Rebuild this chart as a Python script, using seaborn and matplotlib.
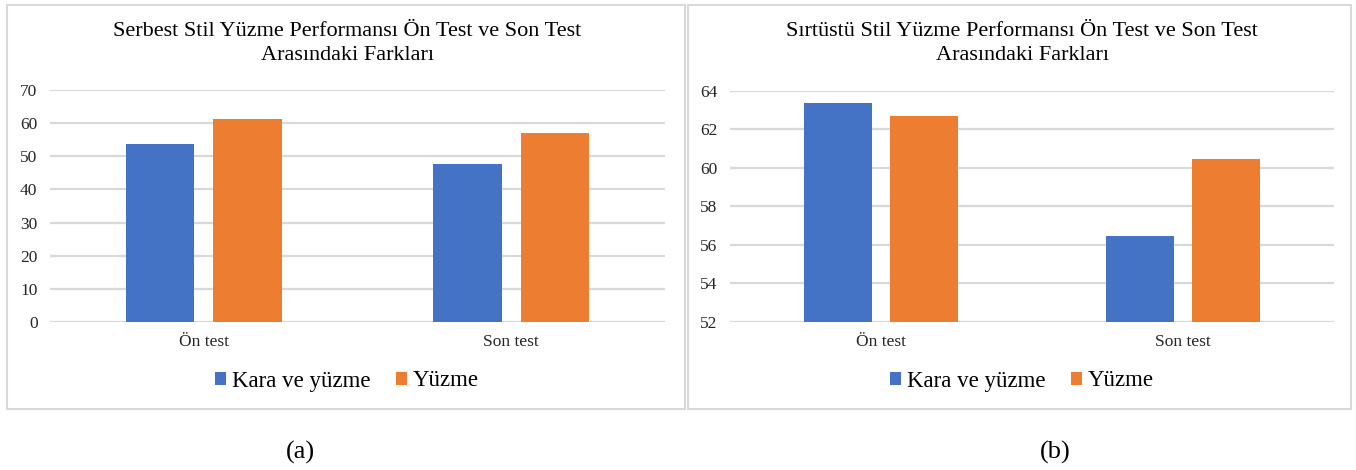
import matplotlib
matplotlib.use("Agg")
import matplotlib.pyplot as plt
import seaborn as sns
import pandas as pd
from matplotlib.patches import Rectangle, Patch

# Data
tests = ["Ön test", "Son test"]
groups = ["Kara ve yüzme", "Yüzme"]
serbest_kara = [53.9, 47.6]
serbest_yuzme = [61.3, 57.1]
sirtustu_kara = [63.35, 56.45]
sirtustu_yuzme = [62.67, 60.47]

title_a = "Serbest Stil Yüzme Performansı Ön Test ve Son Test\nArasındaki Farkları"
title_b = "Sırtüstü Stil Yüzme Performansı Ön Test ve Son Test\nArasındaki Farkları"
yticks_a = [0, 10, 20, 30, 40, 50, 60, 70]
yticks_b = [52, 54, 56, 58, 60, 62, 64]

BLUE = "#4472C4"
ORANGE = "#ED7D31"
GRID = "#D9D9D9"
TEXT = "#262626"

sns.set_theme(style="white")
plt.rcParams["font.family"] = ["Liberation Serif", "DejaVu Serif"]

W, H = 1356, 470
fig = plt.figure(figsize=(W / 100, H / 100), dpi=100)


def frame(px0, py0, px1, py1):
    return [px0 / W, 1 - py1 / H, (px1 - px0) / W, (py1 - py0) / H]


def make_df(kara, yuzme):
    rows = []
    for t, k, y in zip(tests, kara, yuzme):
        rows.append({"test": t, "grup": groups[0], "deger": k})
        rows.append({"test": t, "grup": groups[1], "deger": y})
    return pd.DataFrame(rows)


def draw_panel(rect, kara, yuzme, yticks, title, cx, box, cap, cap_x):
    ax = fig.add_axes(frame(*rect))
    df = make_df(kara, yuzme)
    sns.barplot(data=df, x="test", y="deger", hue="grup", order=tests,
                hue_order=groups, palette=[BLUE, ORANGE], saturation=1,
                width=0.568, gap=0.215, errorbar=None, ax=ax, legend=False,
                edgecolor="none", linewidth=0)
    ax.set_ylim(yticks[0], yticks[-1])
    ax.set_xlim(-0.5, 1.5)
    ax.set_yticks(yticks)
    ax.set_yticklabels([str(v) for v in yticks])
    for v in yticks:
        ax.axhline(v, color=GRID, lw=1.6, zorder=0)
    for s in ax.spines.values():
        s.set_visible(False)
    ax.set_xlabel("")
    ax.set_ylabel("")
    ax.tick_params(axis="y", length=0, pad=9, labelsize=12.5, labelcolor=TEXT)
    ax.tick_params(axis="x", length=0, pad=9, labelsize=12.5, labelcolor=TEXT)
    ax.grid(False)

    fig.text(cx / W, 1 - 43.5 / H, title, ha="center", va="center",
             fontsize=16, color="black", linespacing=1.33)

    x0, y0, x1, y1 = box
    fig.patches.append(Rectangle((x0 / W, 1 - y1 / H), (x1 - x0) / W,
                                 (y1 - y0) / H, transform=fig.transFigure,
                                 fill=False, edgecolor=GRID, lw=1.5))
    handles = [Patch(facecolor=BLUE, edgecolor="none"),
               Patch(facecolor=ORANGE, edgecolor="none")]
    fig.legend(handles, groups, loc="center", ncol=2, frameon=False,
               bbox_to_anchor=(cx / W, 1 - 381 / H), fontsize=16.5,
               handlelength=0.5, handleheight=0.5, handletextpad=0.25,
               columnspacing=1.1, labelcolor="black")
    fig.text(cap_x / W, 1 - 452 / H, cap, ha="center", va="center",
             fontsize=19, color="black")
    return ax


draw_panel((50, 90.3, 665, 321.7), serbest_kara, serbest_yuzme, yticks_a,
           title_a, 347, (7, 5, 685, 409), "(a)", 300)
draw_panel((730, 90.7, 1334, 321.5), sirtustu_kara, sirtustu_yuzme, yticks_b,
           title_b, 1022, (688, 5, 1351, 409), "(b)", 1055)

fig.savefig("out.png", dpi=100, facecolor="white")
